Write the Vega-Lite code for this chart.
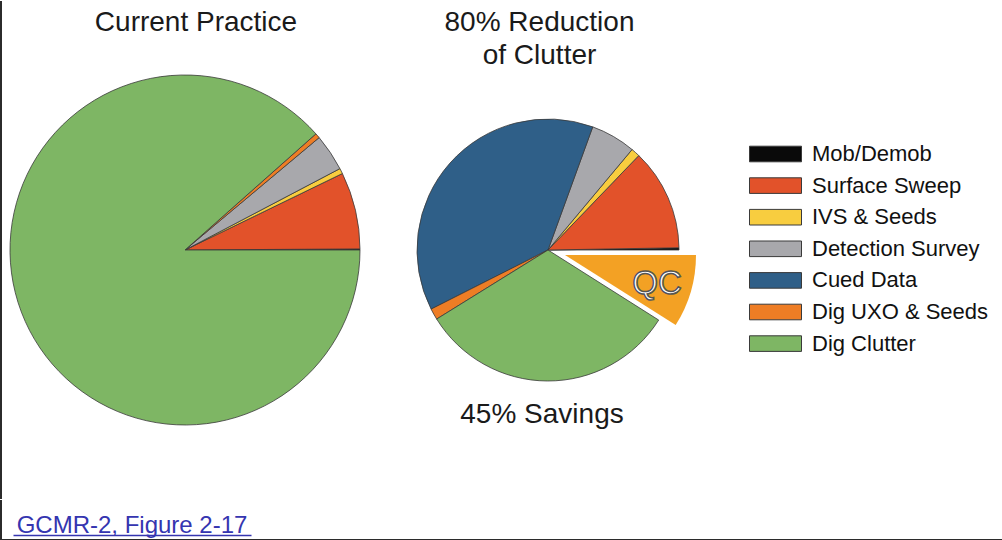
{
  "$schema": "https://vega.github.io/schema/vega-lite/v6.json",
  "padding": 0,
  "background": "white",
  "config": {"view": {"stroke": null}, "font": "Liberation Sans", "text": {"font": "Liberation Sans"}},
  "datasets": {
    "current": [
      {"category": "Mob/Demob", "value": 0.1, "order": 1},
      {"category": "Surface Sweep", "value": 7.1, "order": 2},
      {"category": "IVS & Seeds", "value": 0.5, "order": 3},
      {"category": "Detection Survey", "value": 3.4, "order": 4},
      {"category": "Dig UXO & Seeds", "value": 0.45, "order": 6},
      {"category": "Dig Clutter", "value": 88.45, "order": 7}
    ],
    "reduced": [
      {"category": "Mob/Demob", "value": 0.15, "order": 1},
      {"category": "Surface Sweep", "value": 6.9, "order": 2},
      {"category": "IVS & Seeds", "value": 0.6, "order": 3},
      {"category": "Detection Survey", "value": 3.05, "order": 4},
      {"category": "Cued Data", "value": 20.9, "order": 5},
      {"category": "Dig UXO & Seeds", "value": 0.76, "order": 6},
      {"category": "Dig Clutter", "value": 17.7, "order": 7},
      {"category": "QC", "value": 4.94, "order": 8}
    ]
  },
  "vconcat": [
    {
      "hconcat": [
        {
          "width": 368,
          "height": 498,
          "view": {"stroke": "#2b2b2b", "strokeWidth": 2, "strokeDash": [0, 1234, 498]},
          "layer": [
            {
              "data": {"name": "current"},
              "mark": {"type": "arc", "radius": 175, "stroke": "#3a3a3a", "strokeWidth": 0.8},
              "encoding": {
                "theta": {"field": "value", "type": "quantitative", "stack": true, "scale": {"range": [1.5708, -4.7124]}},
                "order": {"field": "order", "type": "quantitative"},
                "color": {
                  "field": "category", "type": "nominal",
                  "scale": {
                    "domain": ["Mob/Demob", "Surface Sweep", "IVS & Seeds", "Detection Survey", "Cued Data", "Dig UXO & Seeds", "Dig Clutter", "QC"],
                    "range": ["#0a0a0a", "#E2522A", "#F8CD3F", "#A8A8AC", "#2F5F88", "#EE7D25", "#7EB664", "#F3A124"]
                  },
                  "legend": {
                    "orient": "none", "legendX": 748, "legendY": 143, "title": null,
                    "values": ["Mob/Demob", "Surface Sweep", "IVS & Seeds", "Detection Survey", "Cued Data", "Dig UXO & Seeds", "Dig Clutter"],
                    "symbolType": "M-1,-0.3H1V0.3H-1Z", "symbolSize": 2704,
                    "symbolStrokeColor": "#444", "symbolStrokeWidth": 1, "symbolOpacity": 1,
                    "labelFontSize": 22, "labelFont": "Liberation Sans", "labelColor": "#111",
                    "labelOffset": 10, "clipHeight": 20, "rowPadding": 9.6, "padding": 0, "labelLimit": 300
                  }
                }
              }
            },
            {
              "data": {"values": [{"label": "Current Practice"}]},
              "mark": {"type": "text", "fontSize": 28, "dx": 11, "dy": -219, "color": "#1a1a1a", "baseline": "alphabetic", "align": "center"},
              "encoding": {"text": {"field": "label", "type": "nominal"}}
            }
          ]
        },
        {
          "width": 358,
          "height": 498,
          "layer": [
            {
              "data": {"name": "reduced"},
              "mark": {"type": "arc", "radius": 131, "stroke": "#3a3a3a", "strokeWidth": 0.8},
              "encoding": {
                "theta": {"field": "value", "type": "quantitative", "stack": true, "scale": {"range": [1.5708, -4.7124]}},
                "order": {"field": "order", "type": "quantitative"},
                "color": {"field": "category", "type": "nominal"},
                "opacity": {"condition": {"test": "datum.category === 'QC'", "value": 0}, "value": 1}
              }
            },
            {
              "data": {"name": "reduced"},
              "mark": {"type": "arc", "radius": 131, "xOffset": 17, "yOffset": 5, "strokeWidth": 0},
              "encoding": {
                "theta": {"field": "value", "type": "quantitative", "stack": true},
                "order": {"field": "order", "type": "quantitative"},
                "color": {"field": "category", "type": "nominal"},
                "opacity": {"condition": {"test": "datum.category === 'QC'", "value": 1}, "value": 0}
              }
            },
            {
              "data": {"values": [{"label": "80% Reduction\nof Clutter"}]},
              "mark": {"type": "text", "fontSize": 28, "dx": -8.5, "dy": -219, "lineBreak": "\n", "lineHeight": 33, "color": "#1a1a1a", "baseline": "alphabetic", "align": "center"},
              "encoding": {"text": {"field": "label", "type": "nominal"}}
            },
            {
              "data": {"values": [{"label": "45% Savings"}]},
              "mark": {"type": "text", "fontSize": 28, "dx": -6, "dy": 173, "color": "#1a1a1a", "baseline": "alphabetic", "align": "center"},
              "encoding": {"text": {"field": "label", "type": "nominal"}}
            },
            {
              "data": {"values": [{"label": "QC"}]},
              "mark": {"type": "text", "fontSize": 33, "dx": 109, "dy": 44, "fill": "#ffffff", "stroke": "#555555", "strokeWidth": 1.5, "baseline": "alphabetic", "align": "center"},
              "encoding": {"text": {"field": "label", "type": "nominal"}}
            }
          ]
        }
      ],
      "spacing": 0,
      "bounds": "flush",
      "resolve": {"scale": {"theta": "independent"}}
    },
    {
      "width": 1002,
      "height": 40,
      "view": {"stroke": "#2b2b2b", "strokeWidth": 2, "strokeDash": [0, 1042, 1042]},
      "data": {"values": [{"label": "GCMR-2, Figure 2-17"}]},
      "mark": {"type": "text", "fontSize": 24, "color": "#3535B0", "dy": 13, "baseline": "alphabetic", "align": "center"},
      "encoding": {
        "x": {
          "field": "label", "type": "nominal",
          "scale": {"type": "point", "range": [12, 250]},
          "axis": {"title": null, "labels": false, "ticks": false, "grid": false, "domain": true, "domainColor": "#3535B0", "domainWidth": 1.5, "offset": -5}
        },
        "text": {"field": "label", "type": "nominal"}
      }
    }
  ],
  "spacing": -4,
  "bounds": "full"
}
